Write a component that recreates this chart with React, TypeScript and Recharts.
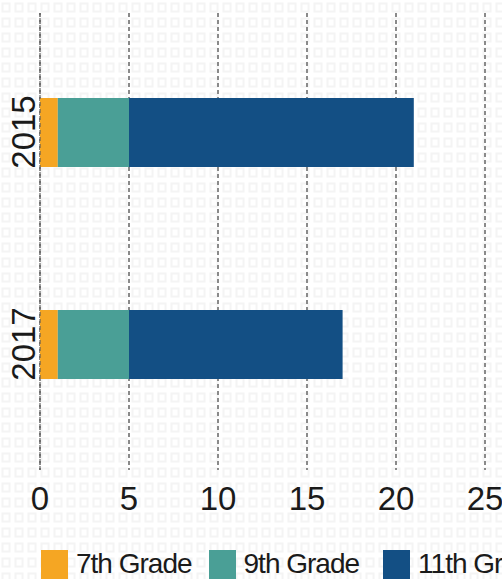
import { BarChart, Bar, XAxis, YAxis, CartesianGrid, Legend, ReferenceLine } from "recharts";

const years = ["2015", "2017"];
const grade7 = [1, 1];
const grade9 = [4, 4];
const grade11 = [16, 12];
const xTicks = [0, 5, 10, 15, 20, 25];

const series = [
  { key: "g7", name: "7th Grade", color: "#F5A623", values: grade7 },
  { key: "g9", name: "9th Grade", color: "#4A9F96", values: grade9 },
  { key: "g11", name: "11th Grade", color: "#134F84", values: grade11 },
];

const data = years.map((year, i) => {
  const row: Record<string, string | number> = { year };
  series.forEach((s) => (row[s.key] = s.values[i]));
  return row;
});

const FONT = "'Liberation Sans', Arial, sans-serif";
const gridColor = "#8a8a8a";

const pattern =
  "url(\"data:image/svg+xml;utf8,<svg xmlns='http://www.w3.org/2000/svg' width='13' height='15'><rect x='2.5' y='3.5' width='7' height='8' fill='none' stroke='%23f4f4f4' stroke-width='2'/></svg>\")";

function YearTick(props: any) {
  const { x, y, payload } = props;
  return (
    <text
      x={x}
      y={y}
      transform={`rotate(-90, ${x}, ${y})`}
      textAnchor="middle"
      fill="#1a1a1a"
      fontSize={33}
      fontFamily={FONT}
    >
      {payload.value}
    </text>
  );
}

function GradeLegend() {
  return (
    <div style={{ display: "flex", alignItems: "flex-start", fontFamily: FONT, height: 30 }}>
      {series.map((s, i) => (
        <div key={s.key} style={{ display: "flex", alignItems: "flex-start", marginRight: i === 0 ? 17 : 24 }}>
          <div style={{ width: 27, height: 30, background: s.color, marginRight: 8 }} />
          <span style={{ fontSize: 28, lineHeight: "28px", letterSpacing: -1, color: "#1a1a1a", whiteSpace: "nowrap" }}>
            {s.name}
          </span>
        </div>
      ))}
    </div>
  );
}

export default function App() {
  return (
    <div
      style={{
        position: "absolute",
        left: 0,
        top: 0,
        width: 502,
        height: 579,
        overflow: "hidden",
        background: "#fff",
        backgroundImage: pattern,
      }}
    >
      <BarChart
        width={580}
        height={580}
        data={data}
        layout="vertical"
        margin={{ top: 13, right: 95, left: 0, bottom: 0 }}
      >
        <CartesianGrid vertical horizontal={false} stroke={gridColor} strokeWidth={2} strokeDasharray="4 3" />
        <XAxis
          type="number"
          domain={[0, 25]}
          ticks={xTicks}
          axisLine={false}
          tickLine={false}
          tickSize={0}
          tickMargin={17}
          height={80}
          interval={0}
          tick={{ fill: "#1a1a1a", fontSize: 33, fontFamily: FONT }}
        />
        <YAxis
          type="category"
          dataKey="year"
          width={40}
          axisLine={false}
          tickLine={false}
          tickSize={0}
          tickMargin={5}
          padding={{ top: 13, bottom: 20 }}
          tick={<YearTick />}
        />
        {series.map((s) => (
          <Bar key={s.key} dataKey={s.key} name={s.name} stackId="a" fill={s.color} barSize={69} isAnimationActive={false} />
        ))}
        <ReferenceLine x={0} stroke="#555" strokeWidth={2} strokeDasharray="4 3" strokeOpacity={0.55} />
        <Legend verticalAlign="bottom" align="left" content={<GradeLegend />} wrapperStyle={{ left: 41 }} />
      </BarChart>
    </div>
  );
}
